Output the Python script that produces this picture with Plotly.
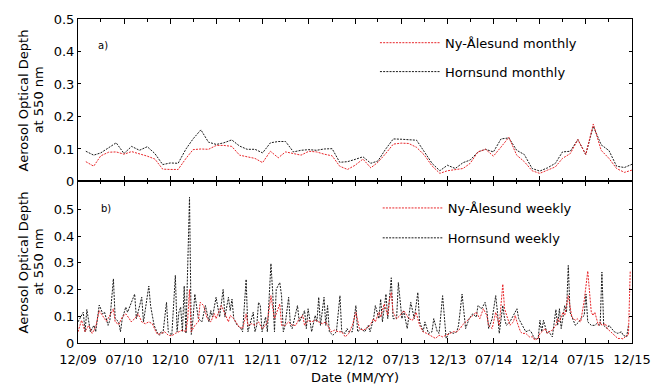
import pandas as pd
import plotly.graph_objects as go

# ---------------- data ----------------
start = pd.Timestamp("2009-12-01")

# monthly means, Jan 2010 .. Dec 2015
ny_alesund_monthly = [
    0.061, 0.047, 0.079, 0.090, 0.091, 0.084, 0.092, 0.086, 0.078, 0.069, 0.038, 0.037,
    0.037, 0.071, 0.098, 0.100, 0.099, 0.111, 0.111, 0.108, 0.081, 0.076, 0.071, 0.058,
    0.093, 0.073, 0.091, 0.086, 0.081, 0.093, 0.091, 0.084, 0.079, 0.047, 0.037, 0.050,
    0.069, 0.042, 0.059, 0.086, 0.115, 0.118, 0.117, 0.105, 0.081, 0.048, 0.025, 0.033,
    0.037, 0.040, 0.056, 0.091, 0.099, 0.078, 0.106, 0.136, 0.081, 0.061, 0.033, 0.025,
    0.035, 0.045, 0.071, 0.086, 0.129, 0.083, 0.177, 0.096, 0.071, 0.040, 0.028, 0.035,
]
hornsund_monthly = [
    0.093, 0.081, 0.088, 0.105, 0.119, 0.086, 0.108, 0.096, 0.107, 0.086, 0.052, 0.057,
    0.056, 0.100, 0.131, 0.159, 0.121, 0.114, 0.119, 0.128, 0.109, 0.099, 0.099, 0.088,
    0.119, 0.123, 0.123, 0.091, 0.096, 0.098, 0.096, 0.100, 0.101, 0.059, 0.061, 0.068,
    0.076, 0.056, 0.063, 0.100, 0.131, 0.130, 0.128, 0.127, 0.091, 0.056, 0.033, 0.050,
    0.040, 0.058, 0.066, 0.091, 0.099, 0.091, 0.131, 0.134, 0.096, 0.083, 0.040, 0.032,
    0.042, 0.056, 0.091, 0.093, 0.129, 0.083, 0.170, 0.113, 0.095, 0.047, 0.043, 0.053,
]
month_index = list(range(1, 73))

# weekly means: week number since 1 Dec 2009 and AOD
hornsund_weekly_week = [
    0, 3, 4, 5, 7, 9, 10, 12, 14, 15, 17, 18, 20, 21, 23, 24, 25, 27, 28, 30, 32, 33, 35, 36, 37,
    39, 40, 41, 43, 45, 46, 47, 48, 50, 51, 53, 55, 56, 57, 58, 59, 60, 61, 63, 64, 65, 66, 68,
    70, 72, 74, 75, 76, 78,
    80, 82, 83, 85, 86, 87, 88, 90, 92, 93, 95, 96, 97, 99, 100, 101, 102, 103, 104, 106, 107,
    108, 109, 110, 111, 112, 114, 115, 116, 117, 119, 120, 121, 124, 125, 126, 128, 129, 130,
    132, 134, 135, 136, 137, 139, 140, 141, 142, 144, 146, 148, 149, 151, 152, 153,
    155, 157, 158, 160, 162, 164, 165, 167, 168, 170, 171, 172, 174, 175, 177, 178, 180, 181,
    183, 184, 186, 188, 190, 192, 193, 195, 196, 198, 200, 201, 203, 204, 206, 208, 210, 212,
    214, 215, 217, 219, 221, 223, 225, 226, 228, 230, 231,
    232, 234, 236, 237, 238, 240, 241, 242, 244, 245, 247, 248, 249, 251, 253, 255, 256, 257,
    258, 260, 261, 262, 263, 265, 266, 268, 270, 271, 272, 273, 275, 276, 277, 278, 280, 281,
    283, 284, 286, 287, 288, 290, 292, 293, 295, 296, 297, 299, 300, 302, 303, 305, 307, 308,
    310, 311,
]
hornsund_weekly = [
    0.079, 0.115, 0.042, 0.125, 0.042, 0.066, 0.042, 0.142, 0.109, 0.115, 0.066, 0.085, 0.240,
    0.091, 0.079, 0.042, 0.091, 0.134, 0.115, 0.152, 0.183, 0.091, 0.146, 0.171, 0.079,
    0.158, 0.213, 0.140, 0.066, 0.036, 0.029, 0.042, 0.036, 0.152, 0.042, 0.029, 0.253, 0.042,
    0.115, 0.134, 0.042, 0.213, 0.036, 0.545, 0.032, 0.091, 0.183, 0.091,
    0.079, 0.140, 0.079, 0.121, 0.097, 0.171,
    0.097, 0.200, 0.097, 0.171, 0.121, 0.164, 0.091, 0.066, 0.054, 0.042, 0.238, 0.042, 0.066,
    0.115, 0.042, 0.066, 0.152, 0.140, 0.042, 0.097, 0.042,
    0.200, 0.297, 0.189, 0.042, 0.201, 0.226, 0.177, 0.042, 0.066, 0.171, 0.066, 0.054, 0.140,
    0.079, 0.091, 0.121, 0.054, 0.128,
    0.042, 0.103, 0.079, 0.171, 0.066, 0.171, 0.066, 0.140, 0.042, 0.029, 0.042, 0.177, 0.042,
    0.036, 0.054, 0.042,
    0.042, 0.140, 0.042, 0.054, 0.042, 0.066, 0.042, 0.091, 0.140, 0.091, 0.164, 0.079, 0.183,
    0.091, 0.244, 0.091, 0.091, 0.226,
    0.091, 0.120, 0.054, 0.152, 0.091, 0.189, 0.079, 0.042, 0.079, 0.036, 0.042, 0.091, 0.042,
    0.036, 0.177, 0.017, 0.042, 0.036,
    0.042, 0.066, 0.183, 0.054, 0.091, 0.109, 0.097, 0.140, 0.128, 0.152, 0.121,
    0.054, 0.091, 0.177, 0.115, 0.036, 0.140, 0.091, 0.066, 0.079, 0.091, 0.115, 0.128, 0.091,
    0.066, 0.042, 0.048, 0.042, 0.029,
    0.017, 0.017, 0.085, 0.042, 0.085, 0.036, 0.042, 0.023, 0.125, 0.066, 0.128, 0.054, 0.140,
    0.115, 0.290, 0.115, 0.079, 0.066,
    0.079, 0.091, 0.103, 0.183, 0.079, 0.066, 0.066, 0.072, 0.066, 0.265, 0.066, 0.054, 0.066,
    0.048, 0.042, 0.036, 0.042, 0.029,
    0.023, 0.066,
]
ny_alesund_weekly_week = [
    0, 2, 4, 6, 8, 10, 12, 14, 16, 17, 20, 21, 23, 25, 27, 29, 30, 32, 34, 36, 38, 40, 42, 44,
    45, 47, 49, 51, 53, 55, 57, 59, 61, 62, 63, 64, 66, 68, 69, 71, 73, 75, 77, 78,
    81, 83, 85, 86, 88, 91, 93, 95, 96, 98, 100, 102, 104, 106, 107, 109, 110, 111, 114, 115,
    117, 119, 121, 123, 125, 127, 128, 130, 132, 134, 136, 138, 140, 142, 143, 145, 147, 149,
    151, 153,
    155, 157, 159, 161, 163, 165, 167, 168, 170, 171, 173, 175, 176, 177, 178, 180, 182, 184,
    186, 187, 189, 191, 193, 195, 197, 199, 200, 202, 204, 206, 208, 210, 212, 214, 216, 217,
    219, 221, 223, 225, 227, 229, 231,
    232, 234, 235, 236, 238, 239, 240, 241, 243, 244, 246, 247, 248, 250, 251, 253, 255, 257,
    258, 260, 261, 262, 264, 265, 266, 268, 270, 271, 272, 274, 275, 277, 278, 279, 281, 282,
    284, 285, 286, 288, 289, 290, 291, 292, 294, 295, 296, 298, 299, 301, 303, 305, 307, 308,
    310, 311, 312,
]
ny_alesund_weekly = [
    0.042, 0.085, 0.042, 0.066, 0.036, 0.060, 0.121, 0.103, 0.081, 0.091, 0.128, 0.079, 0.069,
    0.097, 0.109, 0.091, 0.079, 0.091, 0.109, 0.079, 0.072, 0.079, 0.072, 0.042,
    0.032, 0.036, 0.042, 0.029, 0.027, 0.036, 0.042, 0.048, 0.042, 0.091, 0.200, 0.042, 0.066,
    0.079, 0.152, 0.140, 0.091, 0.079, 0.110, 0.091,
    0.140, 0.109, 0.079, 0.103, 0.091, 0.060, 0.054, 0.109, 0.066, 0.072, 0.066, 0.079, 0.054,
    0.066, 0.079, 0.177, 0.140, 0.091, 0.146, 0.066,
    0.066, 0.079, 0.066, 0.066, 0.091, 0.103, 0.066, 0.085, 0.079, 0.085, 0.079, 0.072, 0.079,
    0.054, 0.042, 0.048, 0.042, 0.042,
    0.023, 0.036,
    0.066, 0.115, 0.054, 0.048, 0.054, 0.066, 0.091, 0.079, 0.115, 0.097, 0.146, 0.103, 0.164,
    0.189, 0.115, 0.091, 0.103, 0.121,
    0.103, 0.091, 0.085, 0.115, 0.066, 0.042, 0.036, 0.029, 0.023, 0.017, 0.029, 0.023, 0.029,
    0.036, 0.042, 0.042, 0.054, 0.066,
    0.079, 0.091, 0.103, 0.115, 0.091, 0.128, 0.103,
    0.066, 0.054, 0.091, 0.115, 0.066, 0.146, 0.220, 0.128, 0.091, 0.066, 0.079, 0.103, 0.079,
    0.042, 0.036, 0.036, 0.023, 0.023,
    0.011, 0.017, 0.036, 0.042, 0.054, 0.036, 0.042, 0.048, 0.066, 0.091, 0.079, 0.115, 0.103,
    0.177, 0.128, 0.097, 0.085, 0.091,
    0.079, 0.115, 0.158, 0.269, 0.177, 0.115, 0.103, 0.115, 0.066, 0.079, 0.066, 0.072, 0.054,
    0.042, 0.029, 0.017, 0.017, 0.015,
    0.029, 0.030, 0.270,
]

tick_labels = ["12/09", "07/10", "12/10", "07/11", "12/11", "07/12", "12/12",
               "07/13", "12/13", "07/14", "12/14", "07/15", "12/15"]

# ---------------- derived x values ----------------
monthly_dates = [start + pd.DateOffset(months=m) for m in month_index]
hw_dates = [start + pd.Timedelta(days=7 * w) for w in hornsund_weekly_week]
nw_dates = [start + pd.Timedelta(days=7 * w) for w in ny_alesund_weekly_week]
major_ticks = [start + pd.DateOffset(months=6 * i) for i in range(len(tick_labels))]
minor_ticks = [start + pd.DateOffset(months=6 * i + 3) for i in range(len(tick_labels) - 1)]
x_end = major_ticks[-1]

RED = "#e8262a"
BLACK = "#1a1a1a"
FONT = "DejaVu Sans"
DASH = "2px,1.2px"

fig = go.Figure()
fig.add_trace(go.Scatter(x=monthly_dates, y=hornsund_monthly, mode="lines",
                         name="Hornsund monthly", line=dict(color=BLACK, width=1, dash=DASH),
                         xaxis="x", yaxis="y", legend="legend", legendgroup="a2", legendrank=2))
fig.add_trace(go.Scatter(x=monthly_dates, y=ny_alesund_monthly, mode="lines",
                         name="Ny-Ålesund monthly", line=dict(color=RED, width=1, dash=DASH),
                         xaxis="x", yaxis="y", legend="legend", legendgroup="a1", legendrank=1))
fig.add_trace(go.Scatter(x=hw_dates, y=hornsund_weekly, mode="lines",
                         name="Hornsund weekly", line=dict(color=BLACK, width=1, dash=DASH),
                         xaxis="x2", yaxis="y2", legend="legend2", legendgroup="b2", legendrank=2))
fig.add_trace(go.Scatter(x=nw_dates, y=ny_alesund_weekly, mode="lines",
                         name="Ny-Ålesund weekly", line=dict(color=RED, width=1, dash=DASH),
                         xaxis="x2", yaxis="y2", legend="legend2", legendgroup="b1", legendrank=1))

split = 0.4985
xcommon = dict(type="date", range=[start, x_end], tickmode="array", tickvals=major_ticks,
               ticks="inside", ticklen=5, tickwidth=1, tickcolor="black", mirror="allticks",
               showline=True, linecolor="black", linewidth=1, showgrid=False, zeroline=False,
               minor=dict(tickmode="array", tickvals=minor_ticks, ticks="inside", ticklen=3,
                          tickwidth=1, tickcolor="black", showgrid=False))
ycommon = dict(ticks="inside", ticklen=3, tickwidth=1, tickcolor="black", mirror="allticks",
               showline=True, linecolor="black", linewidth=1, showgrid=False, zeroline=False,
               tickmode="array", tickvals=[0, 0.1, 0.2, 0.3, 0.4, 0.5],
               ticktext=["0", "0.1", "0.2", "0.3", "0.4", "0.5"],
               tickfont=dict(size=13, color="black", family=FONT))

fig.update_layout(
    width=664, height=388,
    margin=dict(l=78, r=32, t=16, b=45),
    paper_bgcolor="white", plot_bgcolor="white",
    font=dict(family=FONT, size=13, color="black"),
    xaxis=dict(domain=[0, 1], anchor="y", showticklabels=False, **xcommon),
    yaxis=dict(domain=[split, 1], anchor="x", range=[0, 0.5], **ycommon),
    xaxis2=dict(domain=[0, 1], anchor="y2", showticklabels=True, ticktext=tick_labels,
                tickfont=dict(size=13, color="black", family=FONT), ticklabelstandoff=4,
                title=dict(text="Date (MM/YY)", font=dict(size=13, family=FONT), standoff=7),
                automargin=False, **xcommon),
    yaxis2=dict(domain=[0, split], anchor="x2", range=[0, 0.604], **ycommon),
    legend=dict(x=0.536, y=0.973, xanchor="left", yanchor="top", bgcolor="rgba(0,0,0,0)",
                font=dict(size=13, family=FONT), tracegroupgap=9, traceorder="grouped",
                itemwidth=60),
    legend2=dict(x=0.541, y=0.463, xanchor="left", yanchor="top", bgcolor="rgba(0,0,0,0)",
                 font=dict(size=13, family=FONT), tracegroupgap=10, traceorder="grouped",
                 itemwidth=60),
    showlegend=True,
)

ann = []
for yref in ["y domain", "y2 domain"]:
    ann.append(dict(text="Aerosol Optical Depth", xref="paper", yref=yref, x=-0.099, y=0.5,
                    textangle=-90, showarrow=False, xanchor="center", yanchor="middle",
                    font=dict(size=13, family=FONT)))
    ann.append(dict(text="at 550 nm", xref="paper", yref=yref, x=-0.072, y=0.5,
                    textangle=-90, showarrow=False, xanchor="center", yanchor="middle",
                    font=dict(size=13, family=FONT)))
ann.append(dict(text="a)", xref="paper", yref="y domain", x=0.046, y=0.834, showarrow=False,
                xanchor="center", yanchor="middle", font=dict(size=10, family=FONT)))
ann.append(dict(text="b)", xref="paper", yref="y2 domain", x=0.051, y=0.834, showarrow=False,
                xanchor="center", yanchor="middle", font=dict(size=10, family=FONT)))
fig.update_layout(annotations=ann)

fig.write_html("out.html")
